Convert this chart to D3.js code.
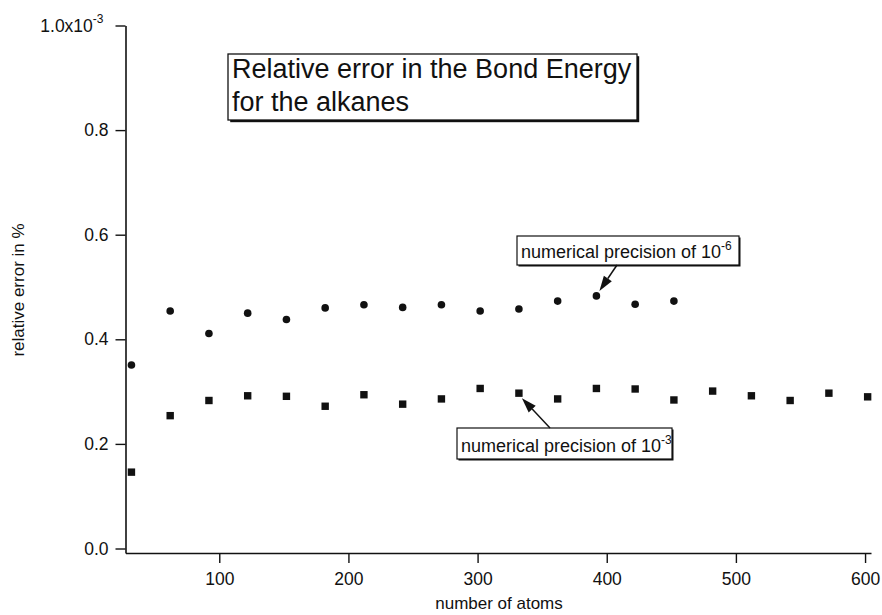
<!DOCTYPE html>
<html>
<head>
<meta charset="utf-8">
<script src="https://cdn.jsdelivr.net/npm/d3@7/dist/d3.min.js"></script>
<style>
  html, body { margin: 0; padding: 0; background: #fff; }
  svg text { font-family: "Liberation Sans", Arial, Helvetica, sans-serif; fill: #111; }
</style>
</head>
<body>
<svg id="chart" width="882" height="615"></svg>
<script>
// ---- data (relative error values in units of 1e-3 %) ----
const atomsPrec6 = [32, 62, 92, 122, 152, 182, 212, 242, 272, 302, 332, 362, 392, 422, 452];
const errorPrec6 = [0.351, 0.454, 0.411, 0.450, 0.438, 0.460, 0.466, 0.461, 0.466, 0.454, 0.458, 0.473, 0.483, 0.467, 0.473];
const atomsPrec3 = [32, 62, 92, 122, 152, 182, 212, 242, 272, 302, 332, 362, 392, 422, 452, 482, 512, 542, 572, 602];
const errorPrec3 = [0.146, 0.254, 0.283, 0.292, 0.291, 0.272, 0.294, 0.276, 0.286, 0.306, 0.297, 0.286, 0.306, 0.305, 0.284, 0.301, 0.292, 0.283, 0.297, 0.290];
const xTicks = [100, 200, 300, 400, 500, 600];
const yTicks = [0.0, 0.2, 0.4, 0.6, 0.8, 1.0];
const yTickLabels = ["0.0", "0.2", "0.4", "0.6", "0.8", "1.0x10"];
const yTopExponent = "-3";
const titleLines = ["Relative error in the Bond Energy", "for the alkanes"];
const xTitle = "number of atoms";
const yTitle = "relative error in %";
const note6 = { text: "numerical precision of 10", exp: "-6", atom: 392, value: 0.483 };
const note3 = { text: "numerical precision of 10", exp: "-3", atom: 332, value: 0.297 };

// ---- scales ----
const svg = d3.select("#chart");
const x = d3.scaleLinear().domain([27.4, 604.6]).range([125.5, 871]);
const y = d3.scaleLinear().domain([-0.0086, 1.0]).range([553, 25.5]);
const ink = "#111";

// ---- axes ----
const xAxis = svg.append("g").attr("transform", "translate(0,553)")
  .call(d3.axisBottom(x).tickValues(xTicks).tickSize(10).tickSizeOuter(0).tickPadding(10)
    .tickFormat(d3.format("d")));
const yAxis = svg.append("g").attr("transform", "translate(125.5,0)")
  .call(d3.axisLeft(y).tickValues(yTicks).tickSize(10).tickSizeOuter(0).tickPadding(7)
    .tickFormat((d, i) => yTickLabels[i]));
[xAxis, yAxis].forEach(g => {
  g.select(".domain").attr("stroke", ink).attr("stroke-width", 1.6);
  g.selectAll(".tick line").attr("stroke", ink).attr("stroke-width", 1.4);
  g.selectAll(".tick text").attr("font-size", 17.5).attr("fill", ink)
    .attr("font-family", "Liberation Sans, Arial, Helvetica, sans-serif");
});
// exponent on top tick label
yAxis.selectAll(".tick text").filter((d, i) => i === yTicks.length - 1)
  .each(function () {
    const t = d3.select(this);
    t.attr("x", -22);
    t.append("tspan").attr("font-size", 12).attr("dy", "-0.75em").text(yTopExponent);
  });

// ---- axis titles ----
svg.append("text").attr("x", 499).attr("y", 609).attr("text-anchor", "middle")
  .attr("font-size", 17).text(xTitle);
svg.append("text").attr("transform", "translate(24,290) rotate(-90)").attr("text-anchor", "middle")
  .attr("font-size", 17).text(yTitle);

// ---- marks ----
svg.append("g").selectAll("circle").data(atomsPrec6).join("circle")
  .attr("cx", d => x(d)).attr("cy", (d, i) => y(errorPrec6[i])).attr("r", 3.8).attr("fill", ink);
const sq = 7.4;
svg.append("g").selectAll("rect").data(atomsPrec3).join("rect")
  .attr("x", d => x(d) - sq / 2).attr("y", (d, i) => y(errorPrec3[i]) - sq / 2)
  .attr("width", sq).attr("height", sq).attr("fill", ink);

// ---- boxes ----
function shadowBox(bx, by, bw, bh, sh, sw) {
  svg.append("rect").attr("x", bx + sh).attr("y", by + sh).attr("width", bw).attr("height", bh).attr("fill", ink);
  svg.append("rect").attr("x", bx).attr("y", by).attr("width", bw).attr("height", bh)
    .attr("fill", "#fff").attr("stroke", ink).attr("stroke-width", sw);
}
shadowBox(228, 54, 409, 66, 2.2, 1.3);
svg.append("text").attr("x", 232).attr("y", 78).attr("font-size", 27).text(titleLines[0]);
svg.append("text").attr("x", 232).attr("y", 111).attr("font-size", 27).text(titleLines[1]);

function note(n, bx, by, bw, bh, tail, headOff) {
  shadowBox(bx, by, bw, bh, 1.5, 1.2);
  const t = svg.append("text").attr("x", bx + 4).attr("y", by + bh - 7).attr("font-size", 18).text(n.text);
  t.append("tspan").attr("font-size", 12).attr("dy", "-0.7em").text(n.exp);
  // arrow
  const hx = x(n.atom) + headOff[0], hy = y(n.value) + headOff[1];
  const ang = Math.atan2(hy - tail[1], hx - tail[0]);
  const L = 15, W = 4.8;
  const bxp = hx - L * Math.cos(ang), byp = hy - L * Math.sin(ang);
  svg.append("line").attr("x1", tail[0]).attr("y1", tail[1]).attr("x2", bxp).attr("y2", byp)
    .attr("stroke", ink).attr("stroke-width", 1.5);
  const px = -Math.sin(ang) * W, py = Math.cos(ang) * W;
  svg.append("path").attr("d", `M${hx},${hy}L${bxp + px},${byp + py}L${bxp - px},${byp - py}Z`).attr("fill", ink);
}
note(note6, 517, 236, 222, 29, [617, 265], [3, -5]);
note(note3, 457, 428, 215, 31, [550, 428], [3, 5]);
</script>
</body>
</html>
